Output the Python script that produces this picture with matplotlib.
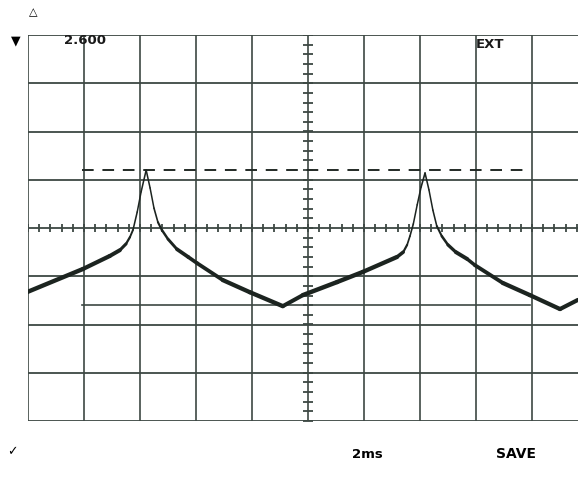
import numpy as np
import matplotlib
matplotlib.use('Agg')
import matplotlib.pyplot as plt
from matplotlib.collections import LineCollection

# trace, in graticule divisions (x: 0..10, y: -4..4)
traceX = [-0.02, 0.98, 1.46, 1.64, 1.75, 1.82, 1.875, 1.95, 2.02, 2.11, 2.18, 2.25, 2.32, 2.39,
          2.50, 2.66, 2.86, 3.02, 3.48, 3.96, 4.55, 4.91, 5.52, 5.98, 6.59, 6.70, 6.77, 6.82,
          6.88, 6.95, 7.02, 7.09, 7.16, 7.23, 7.30, 7.39, 7.50, 7.64, 7.84, 7.98, 8.48, 8.96,
          9.50, 9.82]
traceY = [-1.33, -0.85, -0.58, -0.46, -0.33, -0.19, -0.04, 0.33, 0.75, 1.20, 0.83, 0.41, 0.12, -0.04,
          -0.23, -0.44, -0.60, -0.73, -1.08, -1.33, -1.62, -1.39, -1.12, -0.91, -0.60, -0.50, -0.35, -0.17,
          0.08, 0.48, 0.85, 1.14, 0.79, 0.37, 0.04, -0.17, -0.35, -0.50, -0.64, -0.77, -1.14, -1.39,
          -1.68, -1.49]

# cursors
upperCursorY = 1.20
lowerCursorY = -1.60
cursorX = [0.96, 8.96]

# screen readouts
voltsLabel = '2.600'
trigLabel = 'EXT'
timeLabel = '2ms'
modeLabel = 'SAVE'

W, H = 578, 484
fig = plt.figure(figsize=(W/100, H/100), dpi=100)
fig.patch.set_facecolor('white')
# graticule runs from px 28 to 588 (cut off on the right), 35 to 421
ax = fig.add_axes([28/W, 1-421/H, 560/W, 386/H])
ax.set_xlim(0, 10)
ax.set_ylim(-4, 4)
ax.axis('off')

gridColor = '#3d4843'
for gx in range(0, 11):
    ax.axvline(gx, color=gridColor, lw=1.2, zorder=1)
for gy in range(-4, 5):
    ax.axhline(gy, color=gridColor, lw=1.3, zorder=1)

# minor ticks on the centre axes
xt = np.arange(0, 10.01, 0.2)
yt = np.arange(-4, 4.01, 0.2)
ax.plot(xt, np.zeros_like(xt), ls='none', marker='|', ms=6, mew=1.3, color=gridColor, zorder=2)
ax.plot(np.full_like(yt, 5.0), yt, ls='none', marker='_', ms=7, mew=1.3, color=gridColor, zorder=2)

# cursors
ax.plot(cursorX, [upperCursorY, upperCursorY], color='#222a26', lw=1.4, ls=(0, (6, 4.5)), zorder=2)
ax.plot(cursorX, [lowerCursorY, lowerCursorY], color=gridColor, lw=1.2, zorder=2)

# trace, thinner where the beam moves fast
tx = np.array(traceX)
ty = np.array(traceY)
pts = np.column_stack([tx, ty]).reshape(-1, 1, 2)
segs = np.concatenate([pts[:-1], pts[1:]], axis=1)
slope = np.abs(np.diff(ty) * 48.25 / (np.diff(tx) * 56))
widths = 1.0 + 2.5 / (1 + slope**2)
lc = LineCollection(segs, linewidths=widths, colors='#1c2420', capstyle='round', joinstyle='round', zorder=3)
ax.add_collection(lc)

# readouts
fig.text(33/W, 1-12/H, '\u25b3', fontsize=8, fontweight='bold', color='black', ha='center', va='center')
fig.text(16/W, 1-41/H, '\u25bc', fontsize=9, color='black', ha='center', va='center')
fig.text(64/W, 1-40/H, voltsLabel, fontsize=9.5, fontweight='bold', color='#1a1a1a', ha='left', va='center')
fig.text(476/W, 1-45/H, trigLabel, fontsize=9.5, fontweight='bold', color='#1a1a1a', ha='left', va='center')
fig.text(12/W, 1-452/H, '\u2713', fontsize=9, fontweight='bold', color='black', ha='center', va='center')
fig.text(352/W, 1-454/H, timeLabel, fontsize=9.5, fontweight='bold', color='black', ha='left', va='center')
fig.text(496/W, 1-454/H, modeLabel, fontsize=10, fontweight='bold', color='black', ha='left', va='center')

fig.savefig('out.png', dpi=100, facecolor='white')
